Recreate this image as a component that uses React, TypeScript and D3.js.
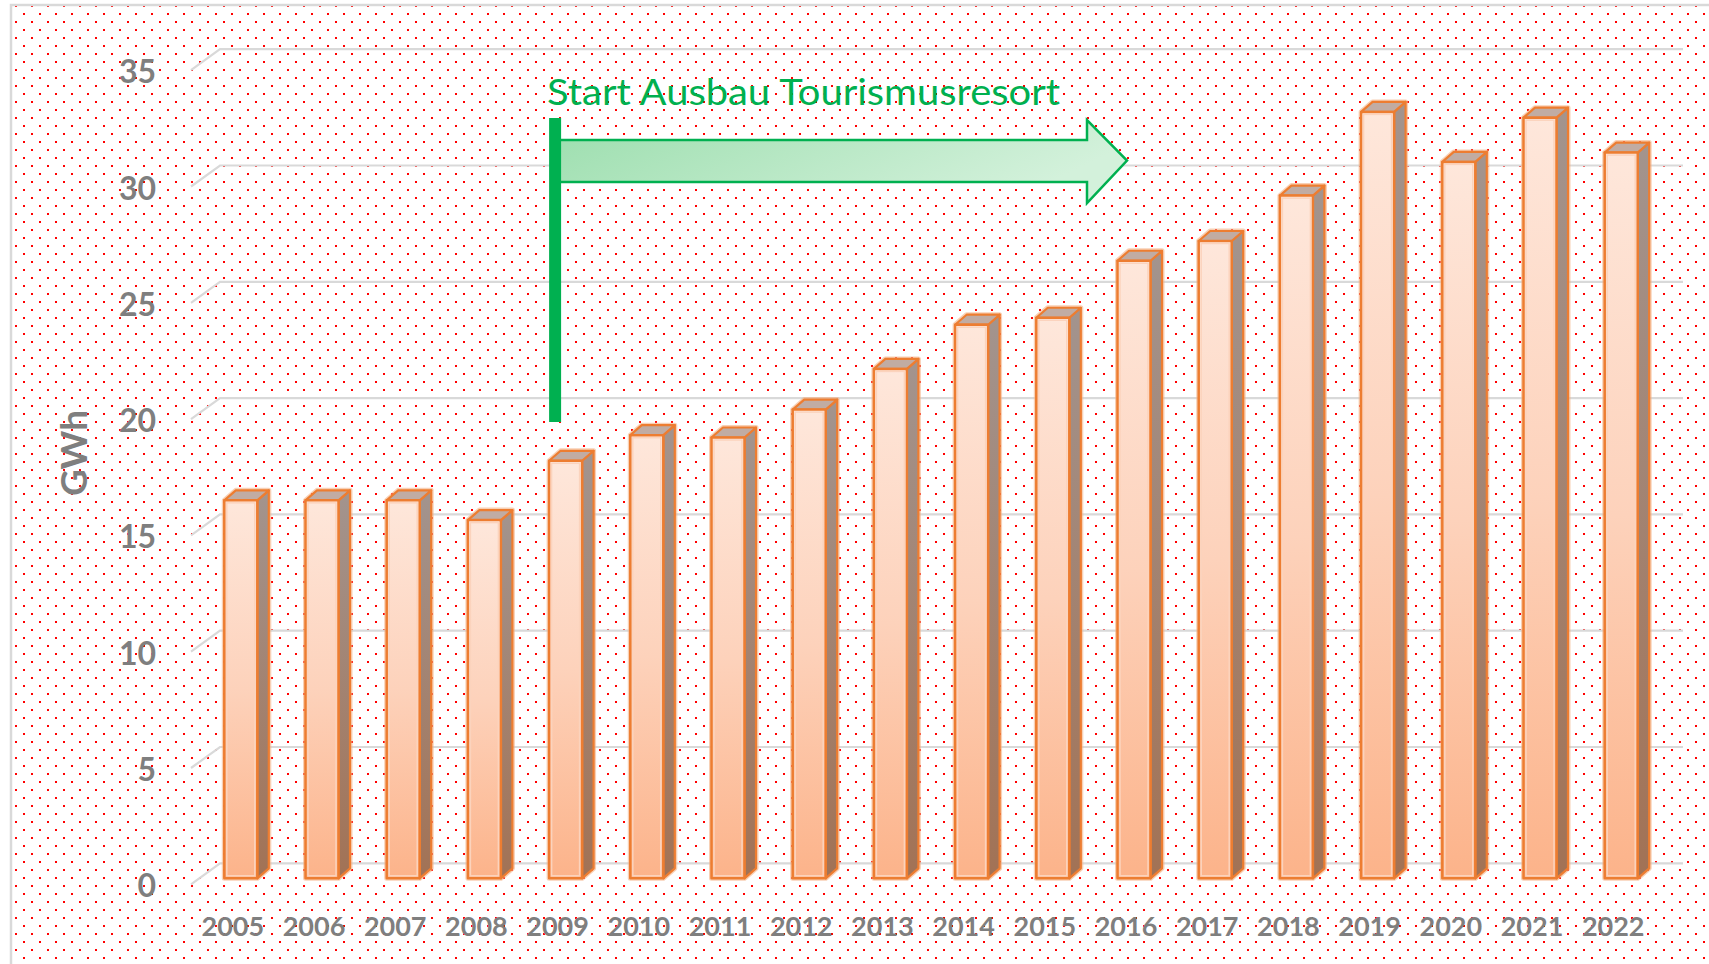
import React from "react";
import * as d3 from "d3";

const years = ["2005","2006","2007","2008","2009","2010","2011","2012","2013","2014","2015","2016","2017","2018","2019","2020","2021","2022"];
const values = [16.25, 16.25, 16.25, 15.4, 17.95, 19.05, 18.95, 20.15, 21.9, 23.8, 24.1, 26.55, 27.4, 29.35, 32.95, 30.8, 32.7, 31.2];
const yTicks = [0, 5, 10, 15, 20, 25, 30, 35];
const yAxisTitle = "GWh";
const annotation = "Start Ausbau Tourismusresort";
const annotationStartYear = "2009";

const W = 1709;
const H = 964;

export default function App() {
  const step = 81.2;
  const pIn = 1 - 33 / step;
  const r0 = 224.3 - step * (pIn / 2);
  const x = d3.scaleBand<string>().domain(years).range([r0, r0 + step * 18]).paddingInner(pIn).paddingOuter(pIn / 2);
  const y = d3.scaleLinear().domain([0, 35]).range([878.3, 878.3 - 35 * 23.26]);
  const bw = x.bandwidth();
  const dx = 11.5, dy = -10;
  const gridLeftFront = 191, gridLeftBack = 220, gridRight = 1683;

  const barX0 = x(annotationStartYear) ?? 549.5;

  return (
    <svg width={W} height={H} style={{ position: "absolute", left: 0, top: 0, background: "#fff" }}>
      <defs>
        <pattern id="dots" patternUnits="userSpaceOnUse" x={0} y={0} width={16} height={16}>
          <rect x={7} y={13} width={2} height={2} fill="#ff0000" />
          <rect x={-1} y={5} width={2} height={2} fill="#ff0000" />
          <rect x={15} y={5} width={2} height={2} fill="#ff0000" />
        </pattern>
        <linearGradient id="front" x1="0" y1="0" x2="0" y2="1">
          <stop offset="0" stopColor="#fee7db" />
          <stop offset="0.5" stopColor="#fdd2bb" />
          <stop offset="1" stopColor="#fcb38a" />
        </linearGradient>
        <linearGradient id="side" x1="0" y1="0" x2="0" y2="1">
          <stop offset="0" stopColor="#a3948e" />
          <stop offset="1" stopColor="#a27255" />
        </linearGradient>
        <linearGradient id="arrowFill" x1="0" y1="0" x2="1" y2="0.3">
          <stop offset="0" stopColor="#9cdeae" />
          <stop offset="1" stopColor="#d3f1db" />
        </linearGradient>
      </defs>
      <rect x={11} y={5} width={W - 11} height={H - 5} fill="url(#dots)" />
      <path d={`M11,${H} L11,5 L${W},5`} fill="none" stroke="#d9d9d9" strokeWidth={2.5} />

      {yTicks.map((t) => (
        <path
          key={"g" + t}
          d={`M${gridLeftFront},${y(t) + 6} L${gridLeftBack},${y(t) - 15} L${gridRight},${y(t) - 15}`}
          fill="none"
          stroke="#d9d9d9"
          strokeWidth={2.2}
        />
      ))}

      {yTicks.map((t) => (
        <text
          key={"t" + t}
          x={156}
          y={y(t) + 19}
          textAnchor="end"
          fontFamily="Lato, 'Open Sans', sans-serif"
          fontWeight={700}
          fontSize={32}
          fill="#7f7f7f"
        >
          {t}
        </text>
      ))}

      <text
        transform={`translate(87,453) rotate(-90)`}
        textAnchor="middle"
        fontFamily="Lato, 'Open Sans', sans-serif"
        fontWeight={700}
        fontSize={37}
        fill="#7f7f7f"
      >
        {yAxisTitle}
      </text>

      {years.map((yr, i) => {
        const x0 = x(yr) ?? 0;
        const x1 = x0 + bw;
        const yt = y(values[i]);
        const yb = y(0);
        const front = `M${x0},${yb} L${x0},${yt} L${x1},${yt} L${x1},${yb} Z`;
        const side = `M${x1},${yb} L${x1 + dx},${yb + dy} L${x1 + dx},${yt + dy} L${x1},${yt} Z`;
        const top = `M${x0},${yt} L${x0 + dx},${yt + dy} L${x1 + dx},${yt + dy} L${x1},${yt} Z`;
        return (
          <g key={yr}>
            <path d={`M${x0},${yb} L${x0},${yt} L${x0 + dx},${yt + dy} L${x1 + dx},${yt + dy} L${x1 + dx},${yb + dy} L${x1},${yb} Z`} fill="none" stroke="#f4b183" strokeOpacity={0.6} strokeWidth={5} strokeLinejoin="round" />
            <path d={side} fill="url(#side)" stroke="#ed7d31" strokeWidth={2.2} strokeLinejoin="round" />
            <path d={top} fill="#c1aca3" stroke="#ed7d31" strokeWidth={2.2} strokeLinejoin="round" />
            <path d={front} fill="url(#front)" stroke="#ed7d31" strokeWidth={2.5} strokeLinejoin="round" />
            <rect x={x0 + 2.5} y={yt + 2.5} width={bw - 5} height={yb - yt - 5} fill="none" stroke="#fbd3bd" strokeWidth={1.5} />
          </g>
        );
      })}

      {years.map((yr) => (
        <text
          key={"x" + yr}
          x={(x(yr) ?? 0) + bw / 2 - 8}
          y={936}
          textAnchor="middle"
          fontFamily="Lato, 'Open Sans', sans-serif"
          fontWeight={700}
          fontSize={27}
          fill="#7f7f7f"
        >
          {yr}
        </text>
      ))}

      <path
        d={`M${barX0 + 7},140 L1087,140 L1087,120 L1127,160.5 L1087,203 L1087,182 L${barX0 + 7},182 Z`}
        fill="url(#arrowFill)"
        stroke="#00b050"
        strokeWidth={2.5}
        strokeLinejoin="miter"
      />
      <rect x={barX0} y={118} width={12} height={304} fill="#00b050" />
      <text
        x={547}
        y={105}
        fontFamily="Lato, 'Open Sans', sans-serif"
        fontSize={37}
        fill="#00b050"
        textLength={513}
        lengthAdjust="spacingAndGlyphs"
      >
        {annotation}
      </text>
    </svg>
  );
}
